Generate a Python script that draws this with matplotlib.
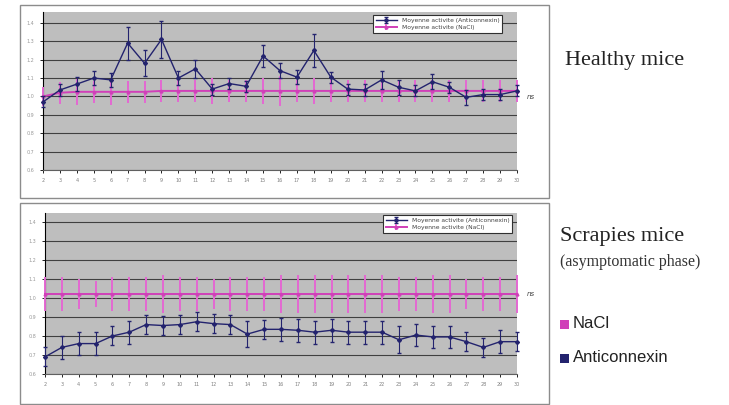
#!/usr/bin/env python3
# -*- coding: utf-8 -*-

"""
plot.py
Daily activity of anticonnexin vs NaCl treated mice (healthy / scrapies)
"""

import numpy as np
import matplotlib
matplotlib.use('Agg')
import matplotlib.pyplot as plt
from matplotlib.patches import Rectangle

days = list(range(2, 31))
y_ticks = [0.6, 0.7, 0.8, 0.9, 1.0, 1.1, 1.2, 1.3, 1.4]

# healthy mice
healthy_anti = [0.97, 1.035, 1.067, 1.10, 1.09, 1.29, 1.18, 1.31, 1.10, 1.15,
                1.04, 1.07, 1.055, 1.22, 1.14, 1.105, 1.25, 1.105, 1.04, 1.035,
                1.09, 1.05, 1.03, 1.08, 1.05, 0.995, 1.01, 1.01, 1.03]
healthy_anti_err = [0.03, 0.03, 0.04, 0.04, 0.04, 0.09, 0.07, 0.10, 0.04, 0.05,
                    0.03, 0.03, 0.03, 0.06, 0.04, 0.04, 0.09, 0.03, 0.03, 0.03,
                    0.05, 0.04, 0.03, 0.04, 0.03, 0.04, 0.03, 0.03, 0.03]
healthy_nacl = [1.0, 1.02, 1.025, 1.025, 1.025, 1.025, 1.025, 1.03, 1.03, 1.03,
                1.03, 1.03, 1.03, 1.03, 1.03, 1.03, 1.03, 1.03, 1.03, 1.03,
                1.03, 1.03, 1.03, 1.03, 1.03, 1.03, 1.03, 1.03, 1.03]
healthy_nacl_err = [0.05, 0.06, 0.07, 0.06, 0.07, 0.06, 0.06, 0.06, 0.06, 0.06,
                    0.07, 0.06, 0.06, 0.07, 0.08, 0.06, 0.07, 0.06, 0.06, 0.06,
                    0.06, 0.06, 0.06, 0.06, 0.06, 0.06, 0.06, 0.06, 0.06]

# scrapies mice (asymptomatic phase)
scrapie_anti = [0.69, 0.74, 0.76, 0.76, 0.80, 0.82, 0.86, 0.855, 0.86, 0.875,
                0.865, 0.86, 0.81, 0.835, 0.835, 0.83, 0.82, 0.83, 0.82, 0.82,
                0.82, 0.78, 0.805, 0.795, 0.795, 0.77, 0.74, 0.77, 0.77]
scrapie_anti_err = [0.05, 0.06, 0.06, 0.06, 0.05, 0.06, 0.05, 0.05, 0.05, 0.05,
                    0.05, 0.05, 0.07, 0.05, 0.06, 0.06, 0.06, 0.06, 0.06, 0.06,
                    0.06, 0.07, 0.06, 0.06, 0.06, 0.05, 0.05, 0.06, 0.05]
scrapie_nacl = [1.02] * 29
scrapie_nacl_err = [0.09, 0.09, 0.08, 0.07, 0.09, 0.09, 0.09, 0.1, 0.09, 0.09,
                    0.08, 0.09, 0.09, 0.09, 0.1, 0.1, 0.1, 0.1, 0.1, 0.1,
                    0.1, 0.09, 0.09, 0.1, 0.1, 0.08, 0.09, 0.09, 0.1]

ANTI_COLOR = '#23236e'
NACL_COLOR = '#d040b8'
PANEL_GRAY = '#bebebe'
W, H = 729, 405


def fig_rect(x0, y0, x1, y1):
    """pixel box (top-left origin) -> figure fraction rect"""
    return [x0 / W, 1 - y1 / H, (x1 - x0) / W, (y1 - y0) / H]


def draw_panel(ax, anti, anti_err, nacl, nacl_err, ytop, legend_anchor):
    ax.set_facecolor(PANEL_GRAY)
    ax.set_xlim(days[0], days[-1])
    ax.set_ylim(0.6, ytop)
    ax.set_yticks(y_ticks)
    ax.set_yticklabels(['%.1f' % v for v in y_ticks], fontsize=3.5, color='#9a9a9a')
    ax.set_xticks(days)
    ax.set_xticklabels([str(d) for d in days], fontsize=3.5, color='#808080')
    ax.tick_params(axis='both', length=2, width=0.6, pad=4)
    ax.grid(axis='y', color='#404040', linewidth=0.8)
    ax.set_axisbelow(True)
    for side in ['top', 'right']:
        ax.spines[side].set_visible(False)
    ax.spines['left'].set_color('black')
    ax.spines['bottom'].set_color('#606060')

    ax.errorbar(days, nacl, yerr=nacl_err, color=NACL_COLOR, ecolor='#e468d2',
                elinewidth=1.4, capsize=0, linewidth=1.4, marker='^', markersize=2,
                label='Moyenne activite (NaCl)', clip_on=False, zorder=3)
    ax.errorbar(days, anti, yerr=anti_err, color=ANTI_COLOR, ecolor=ANTI_COLOR,
                elinewidth=0.8, capsize=1.5, linewidth=1.0, marker='D', markersize=2,
                label='Moyenne activite (Anticonnexin)', clip_on=False, zorder=4)

    handles, labels = ax.get_legend_handles_labels()
    leg = ax.legend(handles[::-1], labels[::-1], loc='upper right',
                    bbox_to_anchor=legend_anchor, fontsize=4.3, frameon=True,
                    fancybox=False, edgecolor='#303030', facecolor='white',
                    framealpha=1, handlelength=3.5, borderpad=0.45, labelspacing=0.35)
    leg.get_frame().set_linewidth(0.8)
    for t in leg.get_texts():
        t.set_color('#404040')


def main():
    fig = plt.figure(figsize=(W / 100, H / 100), dpi=100)
    fig.patch.set_facecolor('white')

    # frames around the two charts
    for box in [(20, 5, 549, 198), (20, 203, 549, 404)]:
        r = fig_rect(*box)
        fig.patches.append(Rectangle((r[0], r[1]), r[2], r[3], transform=fig.transFigure,
                                     fill=False, edgecolor='#8c8c8c', linewidth=1.0))

    ax1 = fig.add_axes(fig_rect(43, 12, 517, 170))
    draw_panel(ax1, healthy_anti, healthy_anti_err, healthy_nacl, healthy_nacl_err,
               1.459, (0.975, 1.0))

    ax2 = fig.add_axes(fig_rect(45, 213, 517, 374))
    draw_panel(ax2, scrapie_anti, scrapie_anti_err, scrapie_nacl, scrapie_nacl_err,
               1.447, (0.996, 1.005))

    fig.text(527 / W, 1 - 97 / H, 'ns', fontsize=5, style='italic', color='#404040',
             va='center', ha='left')
    fig.text(527 / W, 1 - 294 / H, 'ns', fontsize=5, style='italic', color='#404040',
             va='center', ha='left')

    serif = ['Liberation Serif', 'DejaVu Serif']
    fig.text(565 / W, 1 - 60 / H, 'Healthy mice', fontsize=16, family=serif,
             color='#222222', va='center', ha='left')
    fig.text(560 / W, 1 - 236 / H, 'Scrapies mice', fontsize=16, family=serif,
             color='#222222', va='center', ha='left')
    fig.text(560 / W, 1 - 262 / H, '(asymptomatic phase)', fontsize=11.5, family=serif,
             color='#333333', va='center', ha='left')

    sans = ['Liberation Sans', 'DejaVu Sans']
    fig.patches.append(Rectangle((560 / W, 1 - 329 / H), 9 / W, 9 / H, transform=fig.transFigure,
                                 facecolor=NACL_COLOR, edgecolor='none'))
    fig.text(573 / W, 1 - 324 / H, 'NaCl', fontsize=12, family=sans,
             color='#222222', va='center', ha='left')
    fig.patches.append(Rectangle((560 / W, 1 - 363 / H), 9 / W, 9 / H, transform=fig.transFigure,
                                 facecolor=ANTI_COLOR, edgecolor='none'))
    fig.text(573 / W, 1 - 358 / H, 'Anticonnexin', fontsize=12, family=sans,
             color='#222222', va='center', ha='left')

    fig.savefig('out.png', dpi=100, facecolor='white')


if __name__ == "__main__":
    main()
